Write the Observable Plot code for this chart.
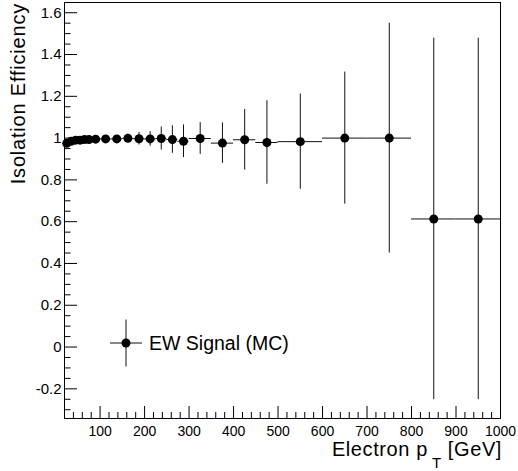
<!DOCTYPE html>
<html><head><meta charset="utf-8">
<script src="https://cdn.jsdelivr.net/npm/d3@7"></script>
<script src="https://cdn.jsdelivr.net/npm/@observablehq/plot@0.6"></script>
<style>
html,body{margin:0;padding:0;background:#fff;}
#chart{position:relative;width:518px;height:471px;}
svg{display:block;}
</style></head><body><div id="chart"></div>
<script>
// ---- data ----
const binEdges = [20,30,40,50,60,70,80,100,125,150,175,200,225,250,275,300,350,400,450,500,600,700,800,900,1000];
const efficiency = [0.975,0.985,0.990,0.990,0.993,0.993,0.995,0.996,0.996,0.999,0.997,0.996,0.998,0.993,0.985,0.998,0.976,0.992,0.979,0.983,1.000,1.000,0.613,0.613];
const efficiencyErr = [0.015,0.010,0.008,0.008,0.008,0.009,0.010,0.012,0.015,0.020,0.030,0.035,0.055,0.066,0.078,0.076,0.097,0.145,0.200,0.228,0.316,0.550,0.865,0.865];
const xTickValues = [100,200,300,400,500,600,700,800,900,1000];
const xTickLabels = ["100","200","300","400","500","600","700","800","900","1000"];
const yTickValues = [-0.2,0,0.2,0.4,0.6,0.8,1,1.2,1.4,1.6];
const yTickLabels = ["-0.2","0","0.2","0.4","0.6","0.8","1","1.2","1.4","1.6"];
const xMinorTicks = d3.range(40, 1000, 20).filter(v => v % 100 !== 0);
const yMinorTicks = d3.range(-6, 33).map(i => +(i * 0.05).toFixed(2)).filter(v => Math.abs(v * 5 - Math.round(v * 5)) > 1e-6);
const xTitle = ["Electron p", "T", " [GeV]"];
const yTitle = "Isolation Efficiency";
const legendLabel = "EW Signal (MC)";

// ---- build table ----
const rows = efficiency.map((e, i) => ({
  xlo: binEdges[i], xhi: binEdges[i + 1], x: (binEdges[i] + binEdges[i + 1]) / 2,
  y: e, ylo: e - efficiencyErr[i], yhi: e + efficiencyErr[i]
}));

const W = 518, H = 471;
const mL = 64, mR = 18, mT = 2, mB = 53;
const fw = W - mL - mR, fh = H - mT - mB;
const font = "'Liberation Sans', Arial, Helvetica, sans-serif";

const plot = Plot.plot({
  width: W, height: H,
  marginLeft: mL, marginRight: mR, marginTop: mT, marginBottom: mB,
  style: {fontFamily: font, background: "#fff", color: "#000"},
  x: {domain: [20, 1000]},
  y: {domain: [-0.342, 1.649]},
  marks: [
    Plot.axisX(xTickValues, {tickSize: 0, tickPadding: 8, fontSize: 14, label: null, tickFormat: d => xTickLabels[xTickValues.indexOf(d)]}),
    Plot.axisY(yTickValues, {tickSize: 0, tickPadding: 3, fontSize: 15, label: null, tickFormat: d => yTickLabels[yTickValues.indexOf(d)]}),
    Plot.tickX(xTickValues, {x: d => d, insetTop: fh - 12, stroke: "#000"}),
    Plot.tickX(xMinorTicks, {x: d => d, insetTop: fh - 6, stroke: "#000"}),
    Plot.tickY(yTickValues, {y: d => d, insetRight: fw - 13, stroke: "#000"}),
    Plot.tickY(yMinorTicks, {y: d => d, insetRight: fw - 6.5, stroke: "#000"}),
    Plot.frame({stroke: "#000"}),
    Plot.ruleX(rows, {x: "x", y1: "ylo", y2: "yhi", stroke: "#111", strokeWidth: 1}),
    Plot.ruleY(rows, {y: "y", x1: "xlo", x2: "xhi", stroke: "#111", strokeWidth: 1}),
    Plot.dot(rows, {x: "x", y: "y", r: 4.5, fill: "#000", stroke: "none"})
  ]
});
document.getElementById("chart").appendChild(plot);

// ---- titles & legend ----
const svg = d3.select(plot);
svg.append("text")
  .attr("transform", `translate(25,${mT + 1}) rotate(-90)`)
  .attr("text-anchor", "end")
  .attr("font-family", font).attr("font-size", 20).attr("letter-spacing", "0.8px")
  .attr("fill", "#000")
  .text(yTitle);

const xt = svg.append("text")
  .attr("x", W - mR + 2).attr("y", 456)
  .attr("text-anchor", "end")
  .attr("font-family", font).attr("font-size", 20).attr("letter-spacing", "0.6px").attr("fill", "#000");
xt.append("tspan").text(xTitle[0]);
xt.append("tspan").attr("font-size", 15).attr("dy", 12).attr("dx", 4).text(xTitle[1]);
xt.append("tspan").attr("dy", -12).text(xTitle[2]);

const lx = mL + 62, ly = 343;
const lg = svg.append("g");
lg.append("line").attr("x1", lx - 16).attr("x2", lx + 16).attr("y1", ly).attr("y2", ly).attr("stroke", "#111");
lg.append("line").attr("x1", lx).attr("x2", lx).attr("y1", ly - 23.5).attr("y2", ly + 23.5).attr("stroke", "#111");
lg.append("circle").attr("cx", lx).attr("cy", ly).attr("r", 4.5).attr("fill", "#000");
lg.append("text").attr("x", lx + 23).attr("y", ly + 6.5).attr("text-anchor", "start")
  .attr("font-family", font).attr("font-size", 19.5).attr("fill", "#000").text(legendLabel);
</script></body></html>
